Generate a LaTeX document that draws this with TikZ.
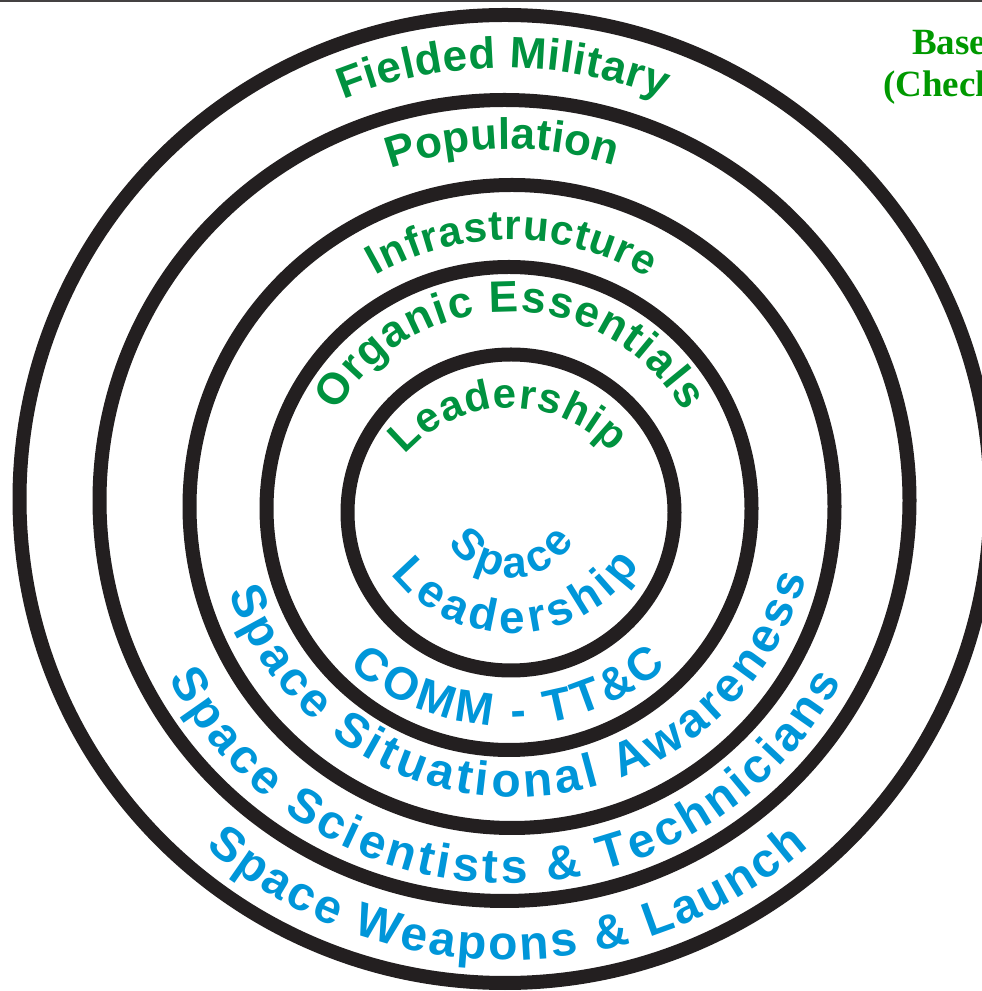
\documentclass[tikz,border=0pt]{standalone}
\usepackage{fontspec}
\setmainfont{Liberation Sans}
\newfontfamily\serifb{Liberation Serif}
\usetikzlibrary{decorations.text}
\definecolor{ringgreen}{HTML}{00923F}
\definecolor{ringblue}{HTML}{0096D9}
\definecolor{ringblack}{HTML}{231F20}
\definecolor{topgreen}{HTML}{009900}
\newcommand\gfont[1]{\fontsize{#1}{#1}\selectfont\bfseries\color{ringgreen}}
\newcommand\bfont[1]{\fontsize{#1}{#1}\selectfont\bfseries\color{ringblue}}
\begin{document}
\begin{tikzpicture}[x=1pt,y=1pt,
  ring/.style={draw=ringblack, line width=14pt},
  arctext/.style={decorate, decoration={text along path, text align={fit to path}, text={#1}}},
  titletext/.style={anchor=base west, inner sep=0pt, font=\serifb\bfseries\fontsize{37}{37}\selectfont, text=topgreen}]
\clip (0,0) rectangle (982,991);
\fill[white] (0,0) rectangle (982,991);
\fill[ringblack!85] (0,988.5) rectangle (982,991);
% rings
\draw[ring] (505,492) ellipse [x radius=485.5, y radius=484];
\draw[ring] (504.5,490.5) ellipse [x radius=405, y radius=400.5];
\draw[ring] (512,484.5) ellipse [x radius=322.5, y radius=321.5];
\draw[ring] (509,482.5) ellipse [x radius=242.5, y radius=241.5];
\draw[ring] (511,478.5) ellipse [x radius=163.5, y radius=158];
% green texts (top)
\path[arctext={|\gfont{44}|Fielded Military}] (505,491) ++(112:432) arc[start angle=112, end angle=68.5, radius=432];
\path[arctext={|\gfont{44}|Population}] (508,487) ++(109.4:355) arc[start angle=109.4, end angle=72.5, radius=355];
\path[arctext={|\gfont{42}|Infrastructure}] (510,483) ++(120:268) arc[start angle=120, end angle=59, radius=268];
\path[arctext={|\gfont{44}|Organic Essentials}] (510,479) ++(150:200) arc[start angle=150, end angle=30, radius=200];
\path[arctext={|\gfont{42}|Leadership}] (510,443) ++(138.4:140) arc[start angle=138.4, end angle=43, radius=140];
% blue texts (bottom)
\path[arctext={|\bfont{44}|Space}] (511,486) ++(212:73) arc[start angle=212, end angle=330, radius=73];
\path[arctext={|\bfont{46}|Leadership}] (512,512) ++(218:154) arc[start angle=218, end angle=326, radius=154];
\path[arctext={|\bfont{46}|COMM - TT{\&}C}] (508,507) ++(229:242) arc[start angle=229, end angle=311, radius=242];
\path[arctext={|\bfont{48}|Space Situational Awareness}] (515,497) ++(199:303) arc[start angle=199, end angle=344, radius=303];
\path[arctext={|\bfont{48}|Space Scientists {\&} Technicians}] (506,488) ++(207.5:380) arc[start angle=207.5, end angle=332, radius=380];
\path[arctext={|\bfont{48}|Space Weapons {\&} Launch}] (507,491) ++(229:460) arc[start angle=229, end angle=311, radius=460];
% corner title
\node[titletext] (base) at (912,936) {Base};
\node[titletext] (check) at (883,894) {(Check};
\end{tikzpicture}
\end{document}
